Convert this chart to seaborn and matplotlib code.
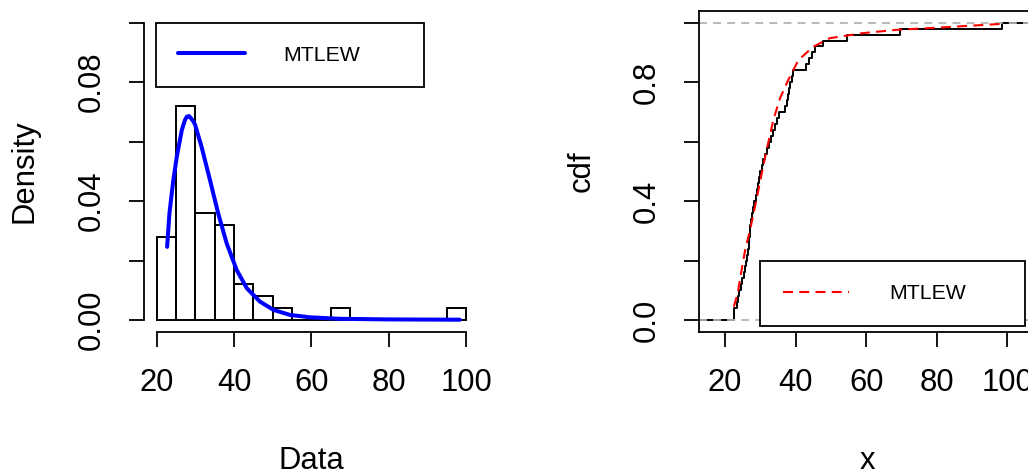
import numpy as np
import matplotlib
matplotlib.use("Agg")
import matplotlib.pyplot as plt
import seaborn as sns

obs = [22.5, 22.6, 23.3, 23.8, 24.0, 24.4, 24.8,
       25.3, 25.6, 26.0, 26.3, 26.5, 26.7, 26.8, 27.0, 27.1,
       27.4, 27.6, 27.9, 28.3, 28.7, 29.0, 29.3, 29.6, 29.9,
       30.4, 30.8, 31.3, 31.8, 32.4, 33.0, 33.5, 34.1, 34.6,
       35.3, 37.0, 37.5, 37.9, 38.2, 38.5, 38.9, 39.3,
       42.9, 43.8, 44.6, 45.6, 47.7, 54.5, 69.6, 98.4]
bin_edges = [20, 25, 30, 35, 40, 45, 50, 55, 60, 65, 70, 75, 80, 85, 90, 95, 100]

# fitted MTLEW density
dens_x = [22.7, 23.3, 24.3, 25.2, 26.5, 27.3, 27.8, 28.4, 29.5, 29.9, 31.6, 33.8,
          35.9, 38.1, 40.7, 43.3, 46.7, 50.2, 54.5, 59.7, 67.4, 80.0, 98.4]
dens_y = [0.0246, 0.0359, 0.0470, 0.0549, 0.0639, 0.0672, 0.0684, 0.0686, 0.0668, 0.0658,
          0.0583, 0.0470, 0.0359, 0.0258, 0.0168, 0.0107, 0.0062, 0.0034, 0.0017,
          0.0009, 0.0004, 0.0002, 0.0001]

# fitted MTLEW cdf
cdf_x = [22.5, 23.6, 24.7, 25.7, 27.1, 28.3, 29.0, 30.4, 31.8, 33.7, 35.6, 37.9,
         40.8, 43.1, 45.0, 49.7, 59.2, 68.6, 82.8, 98.4]
cdf_y = [0.045, 0.090, 0.168, 0.235, 0.303, 0.370, 0.410, 0.493, 0.572, 0.673, 0.746,
         0.807, 0.874, 0.899, 0.919, 0.948, 0.965, 0.976, 0.985, 0.996]

hist_xticks = [20, 40, 60, 80, 100]
hist_yticks = [0.0, 0.02, 0.04, 0.06, 0.08, 0.10]
hist_ylabels = ["0.00", "", "0.04", "", "0.08", ""]
cdf_yticks = [0.0, 0.2, 0.4, 0.6, 0.8, 1.0]
cdf_ylabels = ["0.0", "", "0.4", "", "0.8", ""]

sns.set_style("ticks")
plt.rcParams['font.family'] = ['Liberation Sans', 'DejaVu Sans']
plt.rcParams['axes.linewidth'] = 1.3
plt.rcParams['axes.edgecolor'] = 'black'
plt.rcParams['text.color'] = 'black'
plt.rcParams['axes.labelcolor'] = 'black'

W, H = 1028, 474
fig = plt.figure(figsize=(W / 100, H / 100), dpi=100)
ax1 = fig.add_axes([144.3 / W, 1 - 331.9 / H, 334.1 / W, 321.1 / H])
ax2 = fig.add_axes([698.9 / W, 1 - 331.9 / H, 337.7 / W, 321.1 / H])

fs = 22.3
lfs = 15.3

# left: histogram + fitted density
sns.histplot(x=obs, bins=bin_edges, stat='density', fill=False, color='black',
             linewidth=1.4, ax=ax1)
for p in ax1.patches:
    p.set_edgecolor('black')
sns.lineplot(x=dens_x, y=dens_y, color='#0000FF', linewidth=2.9, label='MTLEW',
             ax=ax1, sort=False)
ax1.set_xlim(16.8, 103.2)
ax1.set_ylim(-0.004, 0.104)
ax1.set_xticks(hist_xticks, [str(t) for t in hist_xticks])
ax1.set_yticks(hist_yticks, hist_ylabels)
for s in ['top', 'right']:
    ax1.spines[s].set_visible(False)
ax1.spines['left'].set_bounds(0, 0.1)
ax1.spines['bottom'].set_bounds(20, 100)
ax1.set_xlabel('Data', fontsize=fs, color='black')
ax1.set_ylabel('Density', fontsize=fs, color='black')
ax1.xaxis.set_label_coords(0.5, -0.355)
ax1.yaxis.set_label_coords(-0.3128, 0.5)
h, l = ax1.get_legend_handles_labels()
leg = ax1.legend(h, l, loc='upper left', bbox_to_anchor=(156 / W, 1 - 85 / H, 268.3 / W, 61.7 / H),
                 bbox_transform=fig.transFigure, mode='expand', borderaxespad=0,
                 fontsize=lfs, fancybox=False, framealpha=1, edgecolor='black',
                 borderpad=1.05, handlelength=3.15, handletextpad=1.8, labelcolor='black')
leg.get_frame().set_linewidth(1.3)

# right: ecdf + fitted cdf
sns.ecdfplot(x=obs, color='black', linewidth=1.4, ax=ax2)
ax2.set_xlim(12.6, 108.3)
ax2.set_ylim(-0.04, 1.04)
xl = ax2.get_xlim()
ax2.hlines(0, xl[0], min(obs), color='black', linewidth=1.4)
ax2.hlines(1, max(obs), xl[1], color='black', linewidth=1.4)
ax2.axhline(0, color='#B3B3B3', linewidth=1.3, linestyle=(0, (4.4, 3.4)))
ax2.axhline(1, color='#B3B3B3', linewidth=1.3, linestyle=(0, (4.4, 3.4)))
sns.lineplot(x=cdf_x, y=cdf_y, color='#FF0000', linewidth=1.5, label='MTLEW',
             linestyle=(0, (4.8, 3.0)), ax=ax2, sort=False)
ax2.set_xticks(hist_xticks, [str(t) for t in hist_xticks])
ax2.set_yticks(cdf_yticks, cdf_ylabels)
ax2.set_xlabel('x', fontsize=fs, color='black')
ax2.set_ylabel('cdf', fontsize=fs, color='black')
ax2.xaxis.set_label_coords(0.5, -0.355)
ax2.yaxis.set_label_coords(-0.3032, 0.5)
h, l = ax2.get_legend_handles_labels()
leg2 = ax2.legend(h, l, loc='upper left', bbox_to_anchor=(760 / W, 1 - 325 / H, 265 / W, 64.3 / H),
                  bbox_transform=fig.transFigure, mode='expand', borderaxespad=0,
                  fontsize=lfs, fancybox=False, framealpha=1, edgecolor='black',
                  borderpad=1.1, handlelength=3.07, handletextpad=1.9, labelcolor='black')
leg2.get_frame().set_linewidth(1.3)

for ax in (ax1, ax2):
    ax.tick_params(axis='both', direction='out', length=10.8, width=1.3,
                   labelsize=fs, color='black', labelcolor='black')
    ax.tick_params(axis='x', pad=15)
    ax.tick_params(axis='y', pad=16, labelrotation=90)
    for t in ax.get_yticklabels():
        t.set_verticalalignment('center')

fig.savefig('out.png', dpi=100)
